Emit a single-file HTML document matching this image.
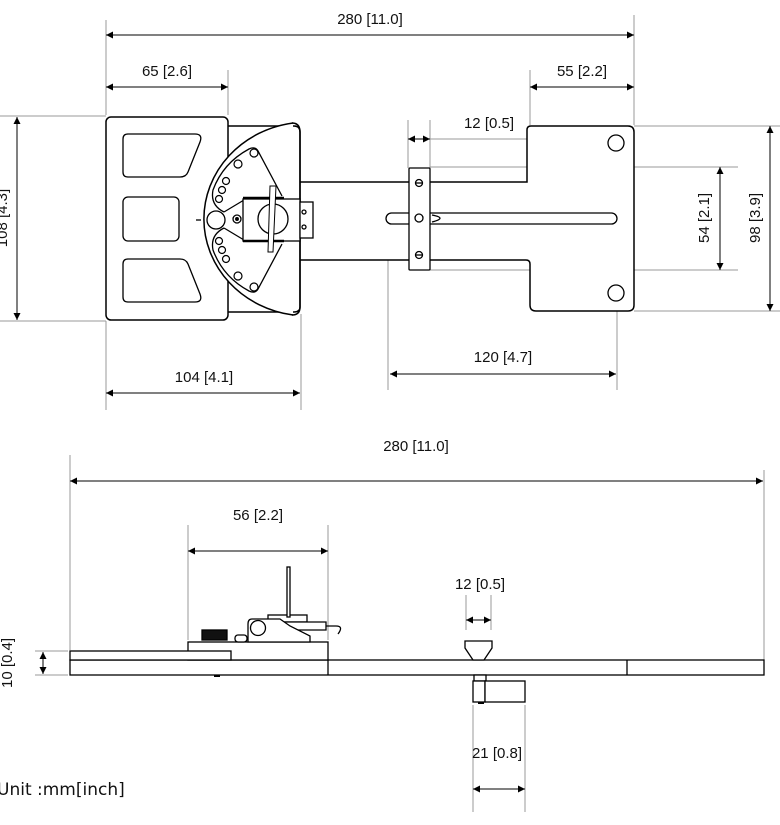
<!DOCTYPE html>
<html><head><style>
html,body{margin:0;padding:0;background:#fff;}
svg{display:block;}
text{font-family:"Liberation Sans",sans-serif;font-size:15px;fill:#111;}
</style></head><body>
<svg width="780" height="825" viewBox="0 0 780 825" xmlns="http://www.w3.org/2000/svg">
<defs>
<marker id="a" viewBox="0 0 10 10" refX="10" refY="5" markerWidth="9" markerHeight="7" orient="auto-start-reverse" markerUnits="userSpaceOnUse"><path d="M0,0 L10,5 L0,10 z" fill="#000"/></marker>
</defs>
<g stroke="#999" stroke-width="1" fill="none">
<line x1="106" y1="20" x2="106" y2="115"/>
<line x1="634" y1="15" x2="634" y2="125"/>
<line x1="228" y1="70" x2="228" y2="115"/>
<line x1="530" y1="70" x2="530" y2="125"/>
<line x1="408" y1="120" x2="408" y2="168"/>
<line x1="430" y1="120" x2="430" y2="168"/>
<line x1="430" y1="139" x2="527" y2="139"/>
<line x1="0" y1="116" x2="106" y2="116"/>
<line x1="0" y1="321" x2="106" y2="321"/>
<line x1="430" y1="167" x2="738" y2="167"/>
<line x1="430" y1="270" x2="738" y2="270"/>
<line x1="634" y1="126" x2="780" y2="126"/>
<line x1="634" y1="311" x2="780" y2="311"/>
<line x1="106" y1="321" x2="106" y2="410"/>
<line x1="301" y1="314" x2="301" y2="410"/>
<line x1="388" y1="222" x2="388" y2="390"/>
<line x1="617" y1="222" x2="617" y2="390"/>
<line x1="70" y1="455" x2="70" y2="650"/>
<line x1="764" y1="470" x2="764" y2="660"/>
<line x1="188" y1="525" x2="188" y2="640"/>
<line x1="328" y1="525" x2="328" y2="640"/>
<line x1="466" y1="595" x2="466" y2="630"/>
<line x1="491" y1="595" x2="491" y2="630"/>
<line x1="473" y1="705" x2="473" y2="812"/>
<line x1="525" y1="705" x2="525" y2="812"/>
<line x1="35" y1="651" x2="68" y2="651"/>
<line x1="35" y1="675" x2="68" y2="675"/>
</g>
<g stroke="#000" stroke-width="1" fill="none" marker-start="url(#a)" marker-end="url(#a)">
<line x1="106" y1="35" x2="634" y2="35"/>
<line x1="106" y1="87" x2="228" y2="87"/>
<line x1="530" y1="87" x2="634" y2="87"/>
<line x1="17" y1="117" x2="17" y2="320"/>
<line x1="720" y1="167" x2="720" y2="270"/>
<line x1="770" y1="126" x2="770" y2="311"/>
<line x1="390" y1="374" x2="616" y2="374"/>
<line x1="106" y1="393" x2="300" y2="393"/>
<line x1="70" y1="481" x2="763" y2="481"/>
<line x1="188" y1="551" x2="328" y2="551"/>
<line x1="466" y1="620" x2="491" y2="620"/>
<line x1="473" y1="789" x2="525" y2="789"/>
<line x1="43" y1="652" x2="43" y2="674"/>
<line x1="408" y1="139" x2="430" y2="139"/>
</g>
<text x="370" y="24" text-anchor="middle">280 [11.0]</text>
<text x="167" y="76" text-anchor="middle">65 [2.6]</text>
<text x="582" y="76" text-anchor="middle">55 [2.2]</text>
<text x="489" y="128" text-anchor="middle">12 [0.5]</text>
<text x="503" y="362" text-anchor="middle">120 [4.7]</text>
<text x="204" y="382" text-anchor="middle">104 [4.1]</text>
<text transform="translate(709,218) rotate(-90)" text-anchor="middle">54 [2.1]</text>
<text transform="translate(760,218) rotate(-90)" text-anchor="middle">98 [3.9]</text>
<text transform="translate(7,218) rotate(-90)" text-anchor="middle">108 [4.3]</text>
<text x="416" y="451" text-anchor="middle">280 [11.0]</text>
<text x="258" y="520" text-anchor="middle">56 [2.2]</text>
<text x="480" y="589" text-anchor="middle">12 [0.5]</text>
<text x="497" y="758" text-anchor="middle">21 [0.8]</text>
<text transform="translate(12,663) rotate(-90)" text-anchor="middle">10 [0.4]</text>
<text x="-3" y="795" style="font-family:'DejaVu Sans',sans-serif;font-size:17px">Unit :mm[inch]</text>

<g stroke="#000" stroke-width="1.5" fill="#fff">
<path d="M295,182 H527 V130 Q527,126 531,126 H628 Q634,126 634,132 V305 Q634,311 628,311 H536 Q530,311 530,305 V264 Q530,260 526,260 H295 Z"/>
<path d="M226,126 H294 Q300,126 300,132 V307 Q300,312 294,312 H226 Z"/>
<rect x="106" y="117" width="122" height="203" rx="5"/>
<path d="M293,123 A104,97 0 0 0 293,315 Z" stroke="none"/>
<path d="M293,123 A104,97 0 0 0 293,315" fill="none"/>
<path d="M292,123 Q300,123 300,132 V307 Q300,315 292,315" fill="none"/>
</g>
<g stroke="#000" stroke-width="1.3" fill="none">
<path d="M128,134 H195 Q203,134 200,142 L188,172 Q186,177 180,177 H128 Q123,177 123,172 V139 Q123,134 128,134 Z"/>
<rect x="123" y="197" width="56" height="44" rx="5"/>
<path d="M128,259 H180 Q186,259 188,264 L200,294 Q203,302 195,302 H128 Q123,302 123,297 V264 Q123,259 128,259 Z"/>
<path d="M224,212 Q210,205 213,190 Q223,163 249,149 Q255,146 258,151 L282,196"/>
<path d="M224,228 Q210,235 213,250 Q223,277 249,291 Q255,294 258,289 L282,244"/>
<line x1="224" y1="212" x2="244" y2="200"/>
<line x1="224" y1="228" x2="244" y2="240"/>
<circle cx="216" cy="220" r="9"/>
<line x1="196" y1="220" x2="201" y2="220"/>
<g stroke-width="1.2">
<circle cx="254" cy="153" r="4"/><circle cx="238" cy="164" r="4"/>
<circle cx="226" cy="181" r="3.5"/><circle cx="222" cy="190" r="3.5"/><circle cx="219" cy="199" r="3.5"/>
<circle cx="219" cy="241" r="3.5"/><circle cx="222" cy="250" r="3.5"/><circle cx="226" cy="259" r="3.5"/>
<circle cx="238" cy="276" r="4"/><circle cx="254" cy="287" r="4"/>
</g>
<circle cx="237" cy="219" r="4"/><circle cx="237" cy="219" r="1.3" fill="#000"/>
<rect x="243" y="199" width="57" height="42" fill="#fff"/>
<rect x="300" y="202" width="13" height="36" fill="#fff"/>
<circle cx="304" cy="212" r="2"/><circle cx="304" cy="227" r="2"/>
<circle cx="273" cy="219" r="15" fill="#fff"/>
<line x1="243" y1="198" x2="284" y2="198" stroke-width="2.5"/>
<line x1="243" y1="241" x2="284" y2="241" stroke-width="2.5"/>
<path d="M270,186 L276,186 L273,252 L268,252 Z" fill="#fff" stroke-width="1"/>
</g>
<g stroke="#000" stroke-width="1.3" fill="#fff">
<rect x="386" y="213" width="231" height="11" rx="5.5"/>
<path d="M432,215 Q448,218 432,222" fill="none"/>
<rect x="409" y="168" width="21" height="102" rx="1"/>
<circle cx="419" cy="183" r="3.5"/><line x1="416" y1="183" x2="422" y2="183"/>
<circle cx="419" cy="218" r="4"/>
<circle cx="419" cy="255" r="3.5"/><line x1="416" y1="255" x2="422" y2="255"/>
<circle cx="616" cy="143" r="8"/>
<circle cx="616" cy="293" r="8"/>
</g>

<g stroke="#000" stroke-width="1.3" fill="#fff">
<rect x="70" y="660" width="694" height="15"/>
<line x1="328" y1="660" x2="328" y2="675"/>
<line x1="627" y1="660" x2="627" y2="675"/>
<rect x="188" y="642" width="140" height="18"/>
<rect x="70" y="651" width="161" height="9"/>
<rect x="214" y="675" width="6" height="2" fill="#000" stroke="none"/>
<rect x="202" y="630" width="25" height="10" fill="#111"/>
<rect x="235" y="635" width="12" height="7" rx="3"/>
<rect x="268" y="615" width="39" height="7"/>
<rect x="287" y="567" width="3" height="50" fill="#fff"/>
<path d="M280,622 H326 V630 H280 Z"/>
<path d="M252,619 H280 L290,626 L310,636 V642 H248 V624 Q248,619 252,619 Z"/>
<circle cx="258" cy="628" r="7.5"/>
<path d="M326,626 H336 Q344,626 338,634" fill="none"/>
<path d="M465,641 H492 V648 L484,660 H473 L465,648 Z"/>
<rect x="474" y="675" width="12" height="6"/>
<rect x="473" y="681" width="12" height="21"/>
<rect x="485" y="681" width="40" height="21"/>
<rect x="478" y="702" width="6" height="2" fill="#000" stroke="none"/>
</g>
</svg>
</body></html>
